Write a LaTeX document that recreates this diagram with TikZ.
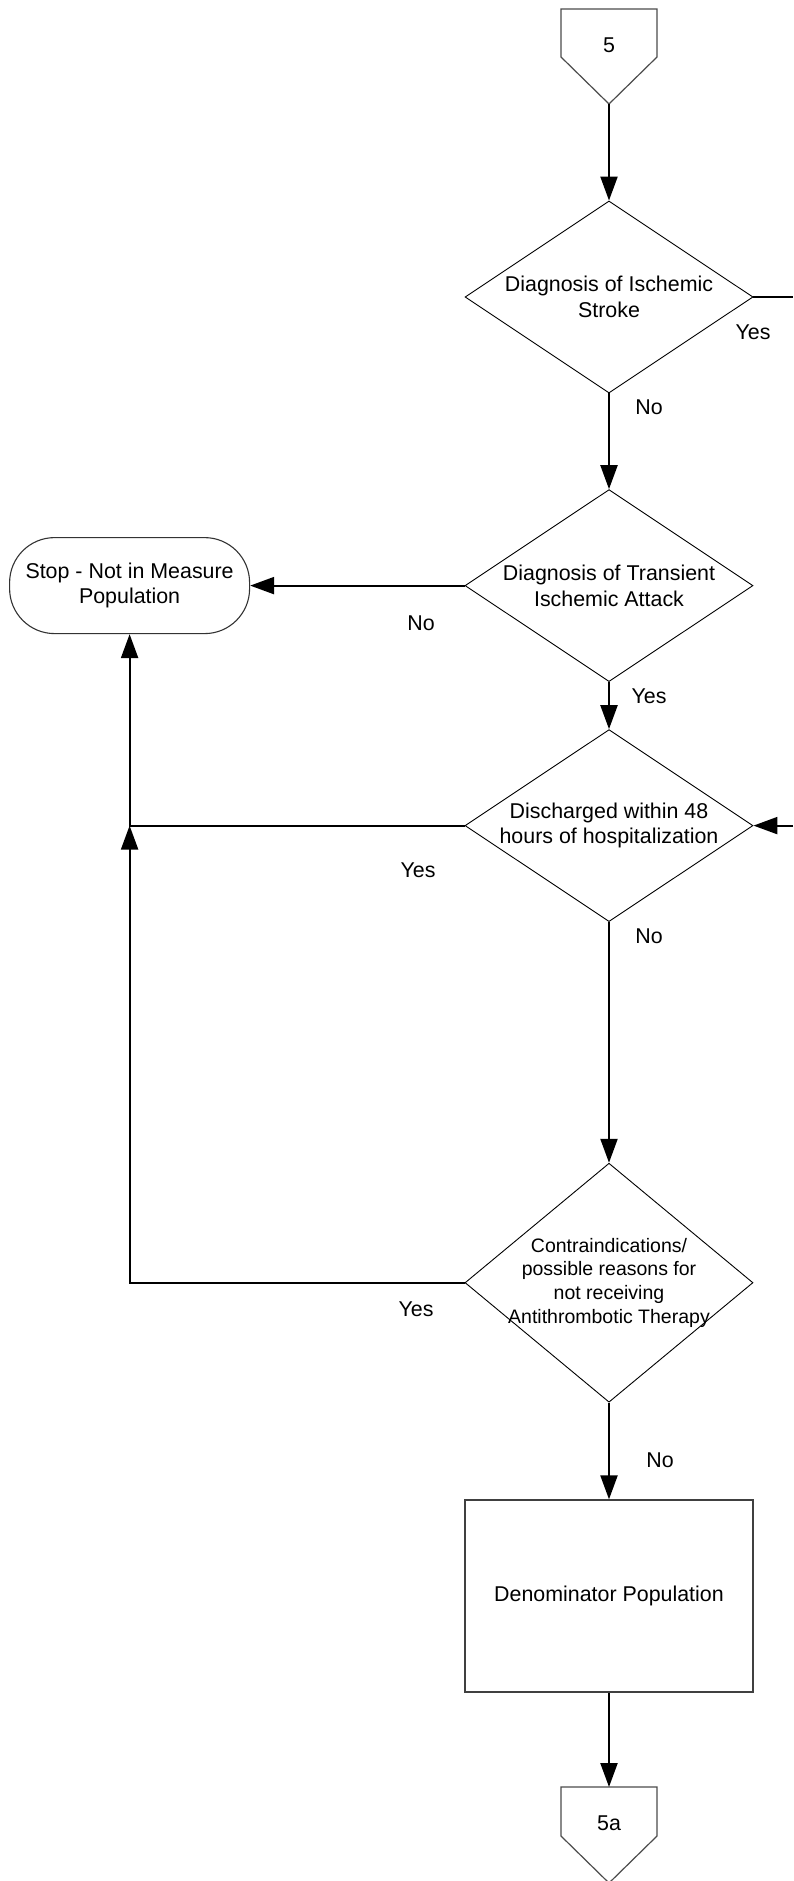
\documentclass[tikz,border=0pt]{standalone}
\usepackage{fontspec}
\setmainfont{Liberation Sans}
\usetikzlibrary{shapes.geometric,arrows.meta,calc}
\begin{document}
\begin{tikzpicture}[x=1pt,y=-1pt,
  every node/.style={font=\fontsize{21.4}{25.7}\selectfont},
  decision/.style={draw=black,line width=0.9pt,shape=diamond,inner sep=0pt,
    minimum width=288pt,minimum height=192pt},
  txt/.style={align=center,inner sep=0pt},
  stopbox/.style={draw=black!80,line width=1.1pt,rounded corners=45pt,
    minimum width=240pt,minimum height=96pt,align=center,inner sep=0pt},
  procbox/.style={draw=black!75,line width=1.3pt,minimum width=288pt,
    minimum height=192pt,align=center,inner sep=0pt},
  offpage/.style={draw=black!70,line width=1.2pt,fill=white},
  conn/.style={line width=2.2pt,-{Triangle[length=24pt,width=17pt]}},
  plain/.style={line width=2.2pt},
  lbl/.style={inner sep=0pt}
]
\useasboundingbox (0,0) rectangle (793,1881);

% off-page connector "5"
\draw[offpage] (561,9) -- (657,9) -- (657,57) -- (609,104) -- (561,57) -- cycle;
\node[txt] (o5) at (609,45) {5};
\coordinate (o5tip) at (609,104);

% decisions
\node[decision] (d1) at (609,297) {};
\node[txt] at (d1.center) {Diagnosis of Ischemic\\Stroke};
\node[decision] (d2) at (609,585.6) {};
\node[txt] at (d2.center) {Diagnosis of Transient\\Ischemic Attack};
\node[decision] (d3) at (609,825.6) {};
\node[txt] at (d3.center) {Discharged within 48\\hours of hospitalization};
\node[decision,minimum height=239pt] (d4) at (609,1282.7) {};
\node[txt,font=\fontsize{19.5}{23.8}\selectfont] at (d4.center)
  {Contraindications/\\possible reasons for\\not receiving\\Antithrombotic Therapy};

% terminal and process
\node[stopbox] (stop) at (129.6,585.6) {Stop - Not in Measure\\Population};
\node[procbox] (den) at (609,1596) {Denominator Population};

% off-page connector "5a"
\draw[offpage] (561,1787) -- (657,1787) -- (657,1836) -- (609,1883) -- (561,1836) -- cycle;
\node[txt] (o5a) at (609,1823) {5a};
\coordinate (o5atop) at (609,1787);

% free ends at the right margin
\coordinate (r1) at (793,297);
\coordinate (r3) at (793,825.6);
\coordinate (j3) at (stop.south |- d3.west);

% connectors
\draw[conn] (o5tip) -- (d1.north);
\draw[plain] (d1.east) -- (r1);
\draw[conn] (d1.south) -- (d2.north);
\draw[conn] (d2.west) -- (stop.east);
\draw[conn] (d2.south) -- (d3.north);
\draw[conn] (r3) -- (d3.east);
\draw[conn] (d3.west) -| (stop.south);
\draw[conn] (d3.south) -- (d4.north);
\draw[conn] (d4.west) -| (j3);
\draw[conn] (d4.south) -- (den.north);
\draw[conn] (den.south) -- (o5atop);

% branch labels
\node[lbl] at (753,332) {Yes};
\node[lbl] at (649,407) {No};
\node[lbl] at (421,623) {No};
\node[lbl] at (649,696) {Yes};
\node[lbl] at (418,870) {Yes};
\node[lbl] at (649,936) {No};
\node[lbl] at (416,1309) {Yes};
\node[lbl] at (660,1460) {No};
\end{tikzpicture}
\end{document}
